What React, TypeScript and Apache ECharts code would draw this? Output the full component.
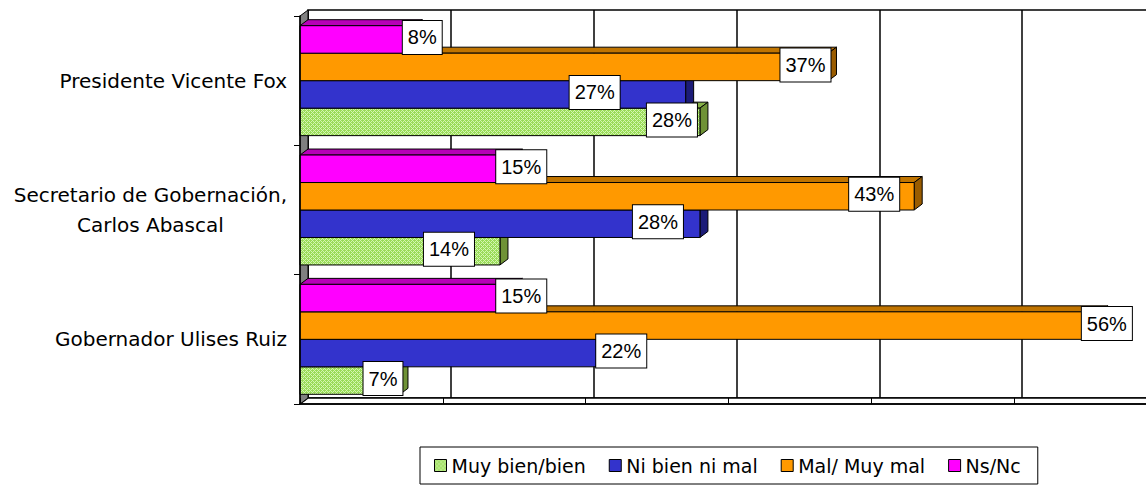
import React, { useEffect, useRef } from 'react';
import * as echarts from 'echarts';

// ---- data ----
const categories = ['Presidente Vicente Fox', 'Secretario de Gobernación,\nCarlos Abascal', 'Gobernador Ulises Ruiz'];
const seriesNames = ['Muy bien/bien', 'Ni bien ni mal', 'Mal/ Muy mal', 'Ns/Nc'];
const muyBien = [28, 14, 7];
const niBienNiMal = [27, 28, 22];
const malMuyMal = [37, 43, 56];
const nsNc = [8, 15, 15];
const axisMin = 0;
const axisMax = 60;
const axisStep = 10;

// ---- label placement (style, relative to bar end) ----
const shiftMuy = [-28, -51, -17];
const shiftNi = [-91, -42, 7];
const shiftMal = [-23, -40, 7];
const shiftNs = [8, 7, 7];

// ---- layout / style ----
const LEFT = 300;
const TOP = 16;
const PW = 857;
const PH = 388;
const DX = 8;
const DY = -6;
const GROUP = 0.85;
const CHART_W = 1200;

function makePattern(): any {
  const c = document.createElement('canvas');
  c.width = 4;
  c.height = 4;
  const ctx = c.getContext('2d')!;
  ctx.fillStyle = '#9ADB58';
  ctx.fillRect(0, 0, 4, 4);
  ctx.fillStyle = '#D2F7B0';
  for (let x = 0; x < 4; x++) {
    for (let y = 0; y < 4; y++) {
      if ((x + y) % 4 === 0 || (x - y + 4) % 4 === 0) ctx.fillRect(x, y, 1, 1);
    }
  }
  return { image: c.toDataURL(), repeat: 'repeat', imageWidth: 4, imageHeight: 4 };
}

export default function App() {
  const ref = useRef<HTMLDivElement>(null);
  useEffect(() => {
    if (!ref.current) return;
    const chart = echarts.init(ref.current, undefined, { renderer: 'svg' });
    const green = makePattern();

    const defs = [
      { name: seriesNames[0], data: muyBien, shift: shiftMuy, front: green, legendColor: green, top: '#86B048', side: '#6F9236' },
      { name: seriesNames[1], data: niBienNiMal, shift: shiftNi, front: '#3333CC', legendColor: '#3333CC', top: '#22228A', side: '#1C1C78' },
      { name: seriesNames[2], data: malMuyMal, shift: shiftMal, front: '#FF9900', legendColor: '#FF9900', top: '#C07400', side: '#9A5C00' },
      { name: seriesNames[3], data: nsNc, shift: shiftNs, front: '#FF00FF', legendColor: '#FF00FF', top: '#B800B8', side: '#A000A0' },
    ];

    const series = defs.map((d, si) => {
      const slot = 3 - si;
      return {
        type: 'custom',
        name: d.name,
        coordinateSystem: 'cartesian2d',
        xAxisIndex: 0,
        yAxisIndex: 0,
        clip: false,
        z: 2,
        itemStyle: { color: d.legendColor },
        encode: { x: 0, y: 1 },
        data: d.data.map((v, i) => [v, i]),
        renderItem: (params: any, api: any) => {
          const v = api.value(0);
          const ci = api.value(1);
          const p0 = api.coord([0, ci]);
          const p1 = api.coord([v, ci]);
          const band = api.size([0, 1])[1];
          const g = band * GROUP;
          const bh = g / 4;
          const top = p0[1] - g / 2 + slot * bh;
          const x0 = p0[0];
          const x1 = p1[0];
          const stroke = { stroke: '#000', lineWidth: 1 };
          return {
            type: 'group',
            children: [
              {
                type: 'polygon',
                z2: 1,
                shape: { points: [[x0, top], [x0 + DX, top + DY], [x1 + DX, top + DY], [x1, top]] },
                style: { fill: d.top, ...stroke },
              },
              {
                type: 'polygon',
                z2: 1,
                shape: { points: [[x1, top], [x1 + DX, top + DY], [x1 + DX, top + DY + bh], [x1, top + bh]] },
                style: { fill: d.side, ...stroke },
              },
              {
                type: 'rect',
                z2: 1,
                shape: { x: x0, y: top, width: x1 - x0, height: bh },
                style: { fill: d.front, ...stroke },
              },
              {
                type: 'text',
                z2: 100,
                x: x1 + d.shift[ci],
                y: top + bh / 2 - 2,
                style: {
                  text: v + '%',
                  fill: '#000',
                  fontSize: 20,
                  fontFamily: 'Liberation Sans',
                  align: 'center',
                  verticalAlign: 'middle',
                  backgroundColor: '#fff',
                  borderColor: '#000',
                  borderWidth: 1,
                  padding: [7, 5, 6, 5],
                },
              },
            ],
          };
        },
      };
    });

    const option: any = {
      animation: false,
      backgroundColor: '#fff',
      grid: [
        { left: LEFT, top: TOP, width: PW, height: PH },
        {
          left: LEFT + DX, top: TOP + DY, width: PW, height: PH,
          show: true, borderColor: '#000', borderWidth: 1.5, backgroundColor: '#fff', z: 0,
        },
      ],
      xAxis: [
        {
          gridIndex: 0, type: 'value', min: axisMin, max: axisMax, interval: axisStep, z: 3,
          axisLabel: { show: false }, splitLine: { show: false },
          axisLine: { show: true, lineStyle: { color: '#000', width: 1.5 } },
          axisTick: { show: true, inside: true, length: 6, lineStyle: { color: '#000' } },
        },
        {
          gridIndex: 1, type: 'value', min: axisMin, max: axisMax, interval: axisStep,
          axisLabel: { show: false }, axisLine: { show: false }, axisTick: { show: false },
          splitLine: { show: true, lineStyle: { color: '#000', width: 1.5 } },
        },
      ],
      yAxis: [
        {
          gridIndex: 0, type: 'category', inverse: true, data: categories, z: 3,
          axisLine: { show: true, lineStyle: { color: '#000', width: 1.5 } },
          axisTick: { show: true, length: 6, lineStyle: { color: '#000' } },
          axisLabel: {
            margin: 13,
            formatter: (val: string) => val.split('\n').map((l) => `{c|${l}}`).join('\n'),
            rich: {
              c: { align: 'center', fontSize: 20, fontFamily: 'DejaVu Sans', lineHeight: 30, color: '#000' },
            },
          },
        },
        { gridIndex: 1, type: 'category', inverse: true, data: categories, show: false },
      ],
      graphic: [
        {
          type: 'polygon', z: 1,
          shape: { points: [[LEFT, TOP + PH], [LEFT + DX, TOP + PH + DY], [LEFT + PW + 60, TOP + PH + DY], [LEFT + PW + 60, TOP + PH]] },
          style: { fill: '#fff', stroke: '#000', lineWidth: 1.5 },
        },
        {
          type: 'polygon', z: 1,
          shape: { points: [[LEFT, TOP], [LEFT + DX, TOP + DY], [LEFT + DX, TOP + PH + DY], [LEFT, TOP + PH]] },
          style: { fill: '#808080', stroke: '#000', lineWidth: 1 },
        },
      ],
      legend: {
        left: 420,
        top: 447,
        orient: 'horizontal',
        itemWidth: 12,
        itemHeight: 12,
        itemGap: 23,
        padding: [9, 17, 9, 14],
        borderColor: '#000',
        borderWidth: 1,
        textStyle: { fontFamily: 'DejaVu Sans', fontSize: 19, color: '#000' },
        data: defs.map((d) => ({
          name: d.name,
          icon: 'rect',
          itemStyle: { color: d.legendColor, borderColor: '#000', borderWidth: 1 },
        })),
      },
      series,
    };
    chart.setOption(option);
    return () => chart.dispose();
  }, []);
  return (
    <div style={{ position: 'absolute', left: 0, top: 0, width: 1146, height: 488, overflow: 'hidden' }}>
      <div ref={ref} style={{ width: CHART_W, height: 488 }} />
    </div>
  );
}
